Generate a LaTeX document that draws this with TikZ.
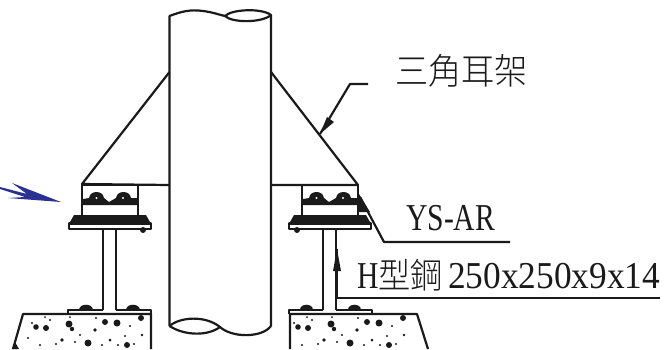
\documentclass[tikz,border=0pt]{standalone}
\usepackage{fontspec}
\setmainfont[FakeStretch=0.78]{Liberation Serif}
\newfontfamily\digits[FakeStretch=0.93]{Liberation Serif}
\newfontfamily\cjk[FakeStretch=0.92]{Noto Sans CJK TC Light}
\definecolor{arrowblue}{HTML}{2A3192}
\definecolor{ink}{HTML}{1A1A1A}
\tikzset{
  ln/.style={draw=ink,line width=2.2pt,line join=round},
  lbl/.style={inner sep=0pt,anchor=base west,text=ink},
  fillk/.style={fill=ink,draw=none},
  speck/.style={fill=ink,draw=none}
}
\newcommand{\supportunit}[1]{%
  \begin{scope}[shift={(#1,0)}]
    \draw[ln] (82,185) rectangle (138,217);
    \fill[fillk] (83,199) -- (89,198) .. controls (90,190) and (103,190) .. (104,198) -- (109,202) -- (116,198) .. controls (117,190) and (130,190) .. (131,198) -- (137,198) -- (137,205) -- (83,205) -- cycle;
    \fill[white] (96.5,198) circle (1.2) (123,198) circle (1.2);
    \fill[fillk] (74,215) -- (146,215) -- (150,222) -- (70,222) -- cycle;
    \draw[ln] (69,223.5) rectangle (151,229);
    \draw[ln,line width=2.8pt] (103,229) -- (103,310) (116,229) -- (116,310);
  \end{scope}}
\newcommand{\specks}[1]{%
  \begin{scope}[shift={(#1,0)}]
    \foreach \x/\y/\r in {36/327/2.8,46/328/3,69/324/3.5,72/329/2.2,105/322/3,117/323/3.5,88/343/3.5,32/323/1.2,50/320/1.2,28/338/1.2,62/340/1.8,80/335/1.2,95/330/1.8,110/340/1.5,125/336/1.2,141/318/3,142/335/1.4,40/345/1.2,118/345/1.2,102/345/1.2,56/344/1.2,130/326/1.2,96/318/1.2,75/342/1.2,134/344/1.2,127/345/3,45/317/1,70/317/1}
      \fill[speck] (\x,\y) circle (\r);
  \end{scope}}
\begin{document}
\begin{tikzpicture}[x=1pt,y=-1pt]
\useasboundingbox (0,0) rectangle (667,349);
% pipe
\draw[ln] (169.5,326) -- (169.5,16) .. controls (180,12) and (190,9) .. (203,11) .. controls (212,12) and (220,15) .. (225,16) .. controls (232,9) and (262,8) .. (271,15) -- (271,326);
\draw[ln] (225,16) .. controls (232,23) and (262,23) .. (271,15);
\draw[ln] (169.5,326) .. controls (180,317) and (205,315) .. (220,327) .. controls (232,338) and (262,338) .. (271,326);
\draw[ln] (169.5,326) .. controls (185,336) and (208,336) .. (220,327);
% brackets
\draw[ln] (169.5,72) -- (82,184) -- (169.5,185);
\draw[ln] (271,72) -- (358,185) -- (271,185);
% supports
\supportunit{0}
\supportunit{220}
\fill[fillk] (143,230) circle (3) (297,230) circle (3);
% base plates
\draw[ln] (68,314) -- (68,310) -- (103,310) (116,310) -- (151,310) -- (151,314);
\fill[fillk] (79,310) .. controls (79,303) and (93,303) .. (93,310) -- cycle;
\fill[fillk] (126,310) .. controls (126,303) and (140,303) .. (140,310) -- cycle;
\draw[ln] (289,314) -- (289,310) -- (323,310) (336,310) -- (372,310) -- (372,314);
\fill[fillk] (300,310) .. controls (300,303) and (313,303) .. (313,310) -- cycle;
\fill[fillk] (348,310) .. controls (348,303) and (361,303) .. (361,310) -- cycle;
% concrete
\draw[ln] (13,349) -- (23,314) -- (151,314) -- (151,349);
\draw[ln] (290,349) -- (290,314) -- (417,314) -- (428,349);
\fill[fillk] (12,349) -- (15,342) -- (19,349) -- cycle;
\specks{0}
\specks{262}
% leaders
\coordinate (a1) at (320,134);
\coordinate (a2) at (350,84);
\coordinate (a3) at (368,84);
\draw[ln] (a3) -- (a2) -- (a1);
\fill[fillk] (a1) -- (327,117) -- (334,122) -- cycle;
\coordinate (b1) at (360,197);
\coordinate (b2) at (384,242);
\coordinate (b3) at (510,242);
\draw[ln] (b1) -- (b2) -- (b3);
\fill[fillk] (359,194) -- (370,212) -- (358,212) -- cycle;
\coordinate (c1) at (337,249);
\coordinate (c2) at (337,298);
\coordinate (c3) at (660,298);
\draw[ln] (c1) -- (c2) -- (c3);
\fill[fillk] (c1) -- (341,271) -- (333,271) -- cycle;
% blue arrow
\fill[arrowblue] (61,202) -- (12,183) -- (27,194) -- (0,187) -- (0,189) -- (25,197) -- (8,198) -- cycle;
% labels
\node[lbl] (t1) at (395,84) {\cjk\fontsize{36}{36}\selectfont 三角耳架};
\node[lbl] (t2) at (406,230) {\fontsize{38}{38}\selectfont YS-AR};
\node[lbl] (t3) at (357,288) {\fontsize{38}{38}\selectfont H\cjk\fontsize{35}{35}\selectfont 型鋼\hspace{5pt}\digits\fontsize{38}{38}\selectfont 250x250x9x14};
\end{tikzpicture}
\end{document}
